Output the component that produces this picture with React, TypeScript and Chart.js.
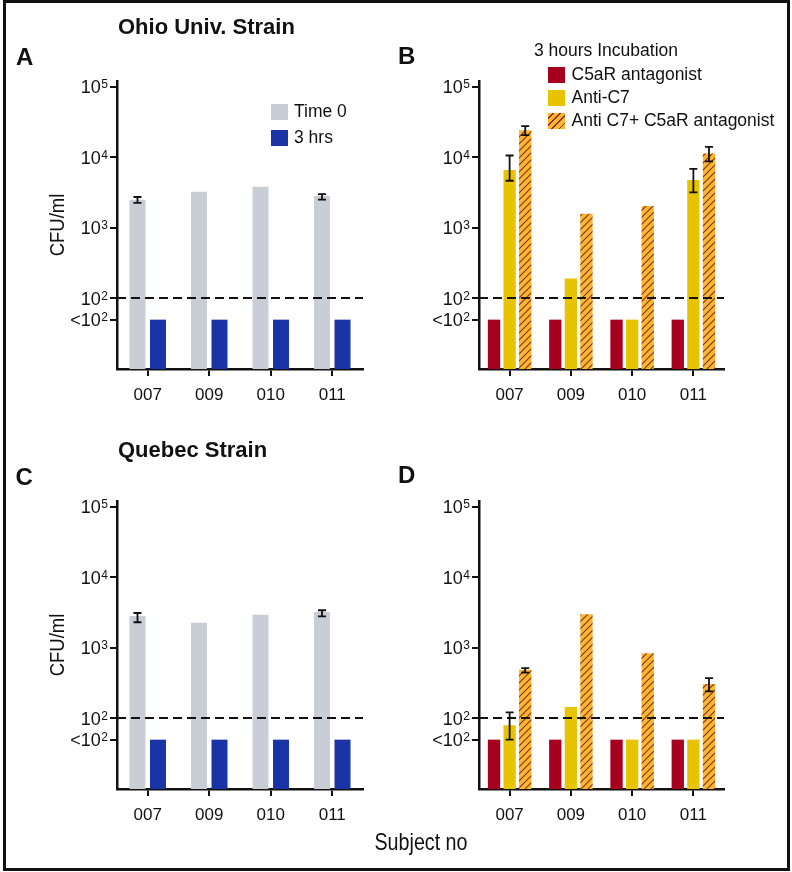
import React, { useEffect, useRef } from 'react';
import { Chart, registerables } from 'chart.js';

Chart.register(...registerables);

// ---------- data ----------
const subjects = ['007', '009', '010', '011'];
const yTickValues = [50, 100, 1000, 10000, 100000];
const yTickBase = ['<10', '10', '10', '10', '10'];
const yTickExp = ['2', '2', '3', '4', '5'];
const yMin = 10;
const yMax = 120000;
const detectionLimit = 100;

// Panel A – Ohio Univ. strain, serum
const ohioTime0 = [2500, 3240, 3820, 2820];
const ohioTime0Low = [2250, null, null, 2510];
const ohioTime0High = [2730, null, null, 2990];
const ohio3hrs = [50, 50, 50, 50];

// Panel B – Ohio Univ. strain, 3 hours incubation
const ohioC5aR = [50, 50, 50, 50];
const ohioAntiC7 = [6560, 191, 50, 4740];
const ohioAntiC7Low = [4640, null, null, 3180];
const ohioAntiC7High = [10570, null, null, 6840];
const ohioCombo = [24000, 1575, 2040, 11270];
const ohioComboLow = [20600, null, null, 8700];
const ohioComboHigh = [27600, null, null, 13960];

// Panel C – Quebec strain, serum
const quebecTime0 = [2820, 2270, 2940, 3210];
const quebecTime0Low = [2300, null, null, 2790];
const quebecTime0High = [3110, null, null, 3400];
const quebec3hrs = [50, 50, 50, 50];

// Panel D – Quebec strain, 3 hours incubation
const quebecC5aR = [50, 50, 50, 50];
const quebecAntiC7 = [80, 145, 50, 50];
const quebecAntiC7Low = [50, null, null, null];
const quebecAntiC7High = [122, null, null, null];
const quebecCombo = [490, 2985, 840, 308];
const quebecComboLow = [446, null, null, 241];
const quebecComboHigh = [516, null, null, 372];

// ---------- style ----------
const GREY = '#C9CED6';
const BLUE = '#1A34A8';
const RED = '#A6001E';
const YELLOW = '#E8C300';
const HATCH_BG = '#F2BC2C';
const HATCH_LINE = '#A3202A';
const INK = '#111111';
const SANS = "'Liberation Sans', Arial, Helvetica, sans-serif";

function makeHatch(): CanvasPattern | string {
  const c = document.createElement('canvas');
  c.width = 7;
  c.height = 7;
  const g = c.getContext('2d');
  if (!g) return HATCH_BG;
  g.fillStyle = HATCH_BG;
  g.fillRect(0, 0, 7, 7);
  g.strokeStyle = HATCH_LINE;
  g.lineWidth = 1.15;
  g.beginPath();
  g.moveTo(0, 7);
  g.lineTo(7, 0);
  g.moveTo(-1, 1);
  g.lineTo(1, -1);
  g.moveTo(6, 8);
  g.lineTo(8, 6);
  g.stroke();
  return g.createPattern(c, 'repeat') || HATCH_BG;
}

const errorBarPlugin = {
  id: 'errorBars',
  afterDatasetsDraw(chart: any) {
    const { ctx } = chart;
    const y = chart.scales.y;
    chart.data.datasets.forEach((ds: any, di: number) => {
      const lo = ds.errLow;
      const hi = ds.errHigh;
      if (!lo || !hi) return;
      const meta = chart.getDatasetMeta(di);
      meta.data.forEach((bar: any, i: number) => {
        if (lo[i] == null || hi[i] == null) return;
        const x = bar.x;
        const y1 = y.getPixelForValue(lo[i]);
        const y2 = y.getPixelForValue(hi[i]);
        ctx.save();
        ctx.strokeStyle = INK;
        ctx.lineWidth = 1.8;
        ctx.beginPath();
        ctx.moveTo(x, y1);
        ctx.lineTo(x, y2);
        ctx.moveTo(x - 4, y1);
        ctx.lineTo(x + 4, y1);
        ctx.moveTo(x - 4, y2);
        ctx.lineTo(x + 4, y2);
        ctx.stroke();
        ctx.restore();
      });
    });
  },
};

const limitLinePlugin = {
  id: 'limitLine',
  afterDatasetsDraw(chart: any) {
    const { ctx, chartArea } = chart;
    const y = Math.round(chart.scales.y.getPixelForValue(detectionLimit));
    ctx.save();
    ctx.strokeStyle = INK;
    ctx.lineWidth = 2;
    ctx.setLineDash([9, 5]);
    ctx.beginPath();
    ctx.moveTo(chartArea.left, y);
    ctx.lineTo(chartArea.right, y);
    ctx.stroke();
    ctx.restore();
  },
};

// y tick labels with a real superscript exponent (power-of-ten notation)
const powerLabelPlugin = {
  id: 'powerLabels',
  afterDraw(chart: any) {
    const { ctx } = chart;
    const y = chart.scales.y;
    const right = y.right - 7 - 2;
    ctx.save();
    ctx.fillStyle = INK;
    y.ticks.forEach((t: any) => {
      const idx = yTickValues.indexOf(t.value);
      if (idx < 0) return;
      const py = y.getPixelForValue(t.value);
      ctx.textAlign = 'right';
      ctx.textBaseline = 'alphabetic';
      ctx.font = `12px ${SANS}`;
      const expW = ctx.measureText(yTickExp[idx]).width;
      ctx.fillText(yTickExp[idx], right, py + 1.6);
      ctx.font = `18px ${SANS}`;
      ctx.fillText(yTickBase[idx], right - expW - 0.5, py + 6.6);
    });
    ctx.restore();
  },
};

type PanelSpec = {
  left: number;
  top: number;
  width: number;
  height: number;
  axisWidth: number;
  padRight: number;
  catPct: number;
  barPct: number;
  datasets: (hatch: CanvasPattern | string) => any[];
};

function buildConfig(spec: PanelSpec, hatch: CanvasPattern | string) {
  return {
    type: 'bar',
    data: {
      labels: subjects,
      datasets: spec.datasets(hatch).map((d) => ({
        borderWidth: 0,
        categoryPercentage: spec.catPct,
        barPercentage: spec.barPct,
        ...d,
      })),
    },
    options: {
      responsive: false,
      animation: false,
      events: [],
      layout: { padding: { top: 81, right: spec.padRight, bottom: 0, left: 0 } },
      plugins: { legend: { display: false }, tooltip: { enabled: false } },
      scales: {
        x: {
          type: 'category',
          grid: {
            display: true,
            offset: false,
            drawOnChartArea: false,
            drawTicks: true,
            tickLength: 7,
            tickWidth: 2,
            color: INK,
            lineWidth: 2,
          },
          border: { display: true, color: INK, width: 2.5 },
          ticks: {
            autoSkip: false,
            maxRotation: 0,
            color: INK,
            padding: 9,
            font: { family: SANS, size: 17 },
          },
          afterFit: (s: any) => {
            s.height = 51;
          },
        },
        y: {
          type: 'logarithmic',
          min: yMin,
          max: yMax,
          afterBuildTicks: (s: any) => {
            s.ticks = yTickValues.map((v) => ({ value: v }));
          },
          grid: {
            display: true,
            drawOnChartArea: false,
            drawTicks: true,
            tickLength: 7,
            tickWidth: 2,
            color: INK,
            lineWidth: 2,
          },
          border: { display: true, color: INK, width: 2.5 },
          ticks: { display: false },
          afterFit: (s: any) => {
            s.width = spec.axisWidth;
          },
        },
      },
    },
    plugins: [limitLinePlugin, errorBarPlugin, powerLabelPlugin],
  };
}

function Panel({ spec }: { spec: PanelSpec }) {
  const ref = useRef<HTMLCanvasElement | null>(null);
  useEffect(() => {
    if (!ref.current) return;
    const hatch = makeHatch();
    const chart = new Chart(ref.current, buildConfig(spec, hatch) as any);
    return () => chart.destroy();
  }, []);
  return (
    <canvas
      ref={ref}
      width={spec.width}
      height={spec.height}
      style={{
        position: 'absolute',
        left: spec.left,
        top: spec.top,
        width: spec.width,
        height: spec.height,
      }}
    />
  );
}

const panelA: PanelSpec = {
  left: 0, top: 0, width: 390, height: 420, axisWidth: 117, padRight: 27,
  catPct: 0.667, barPct: 0.78,
  datasets: () => [
    { label: 'Time 0', data: ohioTime0, backgroundColor: GREY, errLow: ohioTime0Low, errHigh: ohioTime0High },
    { label: '3 hrs', data: ohio3hrs, backgroundColor: BLUE },
  ],
};

const panelB: PanelSpec = {
  left: 390, top: 0, width: 400, height: 420, axisWidth: 89, padRight: 66,
  catPct: 0.764, barPct: 0.79,
  datasets: (hatch) => [
    { label: 'C5aR antagonist', data: ohioC5aR, backgroundColor: RED },
    { label: 'Anti-C7', data: ohioAntiC7, backgroundColor: YELLOW, errLow: ohioAntiC7Low, errHigh: ohioAntiC7High },
    { label: 'Anti C7+ C5aR antagonist', data: ohioCombo, backgroundColor: hatch, errLow: ohioComboLow, errHigh: ohioComboHigh },
  ],
};

const panelC: PanelSpec = {
  left: 0, top: 420, width: 390, height: 420, axisWidth: 117, padRight: 27,
  catPct: 0.667, barPct: 0.78,
  datasets: () => [
    { label: 'Time 0', data: quebecTime0, backgroundColor: GREY, errLow: quebecTime0Low, errHigh: quebecTime0High },
    { label: '3 hrs', data: quebec3hrs, backgroundColor: BLUE },
  ],
};

const panelD: PanelSpec = {
  left: 390, top: 420, width: 400, height: 420, axisWidth: 89, padRight: 66,
  catPct: 0.764, barPct: 0.79,
  datasets: (hatch) => [
    { label: 'C5aR antagonist', data: quebecC5aR, backgroundColor: RED },
    { label: 'Anti-C7', data: quebecAntiC7, backgroundColor: YELLOW, errLow: quebecAntiC7Low, errHigh: quebecAntiC7High },
    { label: 'Anti C7+ C5aR antagonist', data: quebecCombo, backgroundColor: hatch, errLow: quebecComboLow, errHigh: quebecComboHigh },
  ],
};

const hatchCss = `repeating-linear-gradient(135deg, ${HATCH_BG} 0px, ${HATCH_BG} 3.4px, ${HATCH_LINE} 3.4px, ${HATCH_LINE} 4.5px, ${HATCH_BG} 4.5px, ${HATCH_BG} 5px)`;

function Text({ x, y, size, bold, children }: any) {
  return (
    <div
      style={{
        position: 'absolute',
        left: x,
        top: y,
        fontFamily: SANS,
        fontSize: size,
        lineHeight: `${size}px`,
        fontWeight: bold ? 700 : 400,
        color: INK,
        whiteSpace: 'nowrap',
      }}
    >
      {children}
    </div>
  );
}

function CondensedText({ cx, cy, size, squeeze, rotate, children }: any) {
  return (
    <div
      style={{
        position: 'absolute',
        left: cx,
        top: cy,
        fontFamily: SANS,
        fontSize: size,
        lineHeight: `${size}px`,
        color: INK,
        whiteSpace: 'nowrap',
        transform: `translate(-50%, -50%) rotate(${rotate || 0}deg) scaleX(${squeeze})`,
      }}
    >
      {children}
    </div>
  );
}

function LegendRow({ x, y, swatch, label, w, h }: any) {
  return (
    <div
      style={{
        position: 'absolute',
        left: x,
        top: y,
        height: h,
        display: 'flex',
        alignItems: 'center',
        whiteSpace: 'nowrap',
      }}
    >
      <div style={{ width: w, height: h, background: swatch, flex: 'none' }} />
      <div
        style={{
          marginLeft: 6.5,
          fontFamily: SANS,
          fontSize: 17.5,
          lineHeight: '17.5px',
          color: INK,
        }}
      >
        {label}
      </div>
    </div>
  );
}

export default function App() {
  return (
    <div
      style={{
        position: 'absolute',
        left: 0,
        top: 0,
        width: 792,
        height: 872,
        background: '#fff',
        overflow: 'hidden',
      }}
    >
      <Panel spec={panelA} />
      <Panel spec={panelB} />
      <Panel spec={panelC} />
      <Panel spec={panelD} />

      <Text x={118} y={16} size={22} bold>Ohio Univ. Strain</Text>
      <Text x={118} y={438.5} size={22} bold>Quebec Strain</Text>
      <Text x={16} y={44.5} size={24} bold>A</Text>
      <Text x={398} y={44} size={24} bold>B</Text>
      <Text x={15.5} y={464.5} size={24} bold>C</Text>
      <Text x={398} y={463} size={24} bold>D</Text>

      <CondensedText cx={55.5} cy={225} size={21} squeeze={0.88} rotate={-90}>CFU/ml</CondensedText>
      <CondensedText cx={55.5} cy={645} size={21} squeeze={0.88} rotate={-90}>CFU/ml</CondensedText>
      <CondensedText cx={421} cy={842} size={24} squeeze={0.82}>Subject no</CondensedText>

      <LegendRow x={271} y={104} w={16.5} h={16} swatch={GREY} label="Time 0" />
      <LegendRow x={271} y={130} w={16.5} h={16} swatch={BLUE} label="3 hrs" />

      <Text x={534} y={41.5} size={17.5}>3 hours Incubation</Text>
      <LegendRow x={548} y={66.5} w={17} h={16} swatch={RED} label="C5aR antagonist" />
      <LegendRow x={548} y={90} w={17} h={16} swatch={YELLOW} label="Anti-C7" />
      <LegendRow x={548} y={113} w={17} h={16} swatch={hatchCss} label="Anti C7+ C5aR antagonist" />

      <div
        style={{
          position: 'absolute',
          left: 3,
          top: 0,
          width: 787,
          height: 871,
          border: `3px solid ${INK}`,
          boxSizing: 'border-box',
          pointerEvents: 'none',
        }}
      />
    </div>
  );
}
